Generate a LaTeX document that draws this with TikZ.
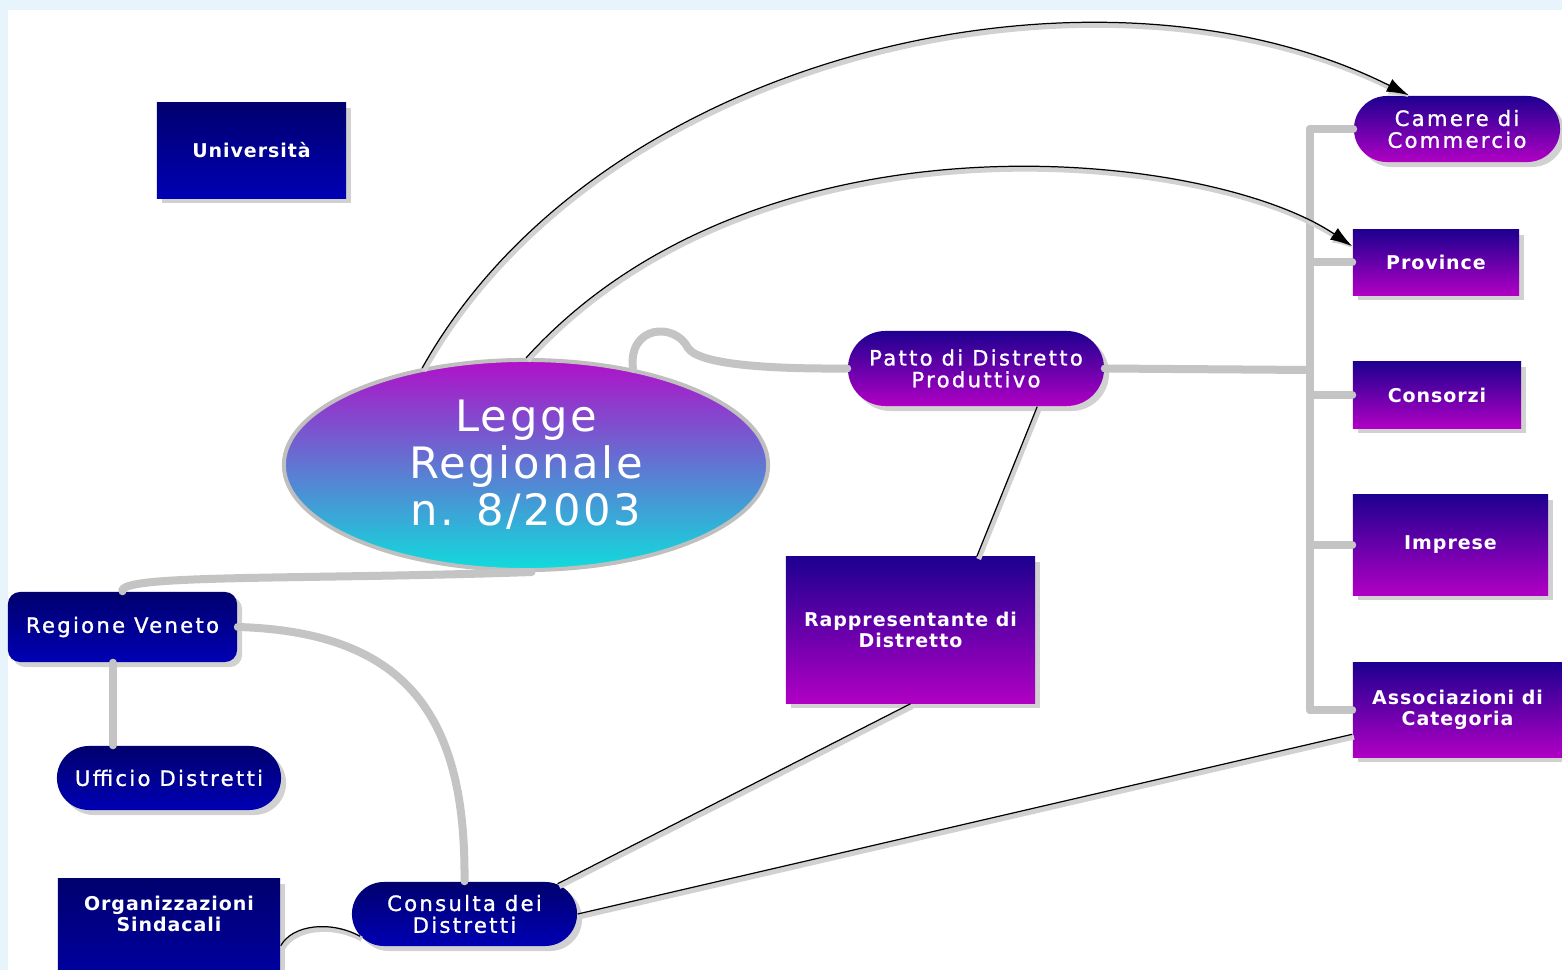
\documentclass[tikz,border=0pt]{standalone}
\usepackage{fontspec}
\setmainfont{DejaVu Sans}
\newfontfamily\pillfont{DejaVu Sans}[LetterSpace=11, FakeBold=1.2]
\newfontfamily\boxfont{DejaVu Sans Bold}[LetterSpace=5]
\newfontfamily\lawfont{DejaVu Sans}[LetterSpace=6]
\usetikzlibrary{shapes.geometric,shapes.misc,shadows,arrows.meta}

\definecolor{pagebg}{HTML}{E8F4FC}
\definecolor{navytop}{HTML}{00006E}
\definecolor{navybot}{HTML}{0000B4}
\definecolor{indigotop}{HTML}{1E0090}
\definecolor{magbot}{HTML}{B000C4}
\definecolor{lawtop}{HTML}{B010C8}
\definecolor{lawmid}{HTML}{5A78CC}
\definecolor{lawbot}{HTML}{10DCDC}
\definecolor{bondgray}{HTML}{C4C4C4}

\tikzset{
  ent/.style={text=white, align=center, inner sep=0pt,
    drop shadow={shadow xshift=0.05cm,shadow yshift=-0.05cm,fill=black!18,opacity=1}},
  navy/.style={ent, top color=navytop, bottom color=navybot},
  violet/.style={ent, top color=indigotop, bottom color=magbot},
  boxed/.style={rectangle, font=\boxfont\fontsize{5.4}{6}\selectfont},
  pill/.style={rounded rectangle, font=\pillfont\fontsize{6}{6.2}\selectfont},
  bond/.style={draw=bondgray, line width=0.08cm, line cap=round},
  link/.style={draw=black, line width=0.35pt,
    preaction={draw=black!18, line width=1.4pt, transform canvas={shift={(0.5pt,-0.8pt)}}}},
}

\begin{document}
\begin{tikzpicture}[x=0.01cm, y=-0.01cm]
% page
\fill[pagebg] (0,0) rectangle (1562,970);
\fill[white] (8,10) rectangle (1562,970);
\useasboundingbox (0,0) rectangle (1562,970);

% central law
\node[ellipse, inner sep=0pt, minimum width=4.84cm, minimum height=2.10cm,
  top color=lawtop, middle color=lawmid, bottom color=lawbot,
  draw=black!25, line width=0.04cm, text=white, align=center,
  font=\lawfont\fontsize{12.3}{13.4}\selectfont] (legge) at (526,465)
  {Legge\\Regionale\\n. 8/2003};

% left side
\node[navy, boxed, minimum width=1.89cm, minimum height=0.95cm] (univ) at (251.5,150.5) {Università};
\node[navy, rectangle, rounded corners=0.12cm, font=\pillfont\fontsize{6}{6.2}\selectfont,
  minimum width=2.29cm, minimum height=0.70cm] (regione) at (122.5,627) {Regione Veneto};
\node[navy, pill, minimum width=2.24cm, minimum height=0.64cm] (ufficio) at (169,778) {Ufficio Distretti};
\node[navy, boxed, minimum width=2.22cm, minimum height=1.34cm, anchor=north] (orgbox) at (169,878) {};
\node[text=white, align=center, font=\boxfont\fontsize{5.4}{6}\selectfont] (org) at (169,914)
  {Organizzazioni\\Sindacali};
\node[navy, pill, minimum width=2.25cm, minimum height=0.64cm] (consulta) at (464.5,914) {Consulta dei\\Distretti};

% middle
\node[violet, pill, minimum width=2.56cm, minimum height=0.75cm] (patto) at (976,368.5) {Patto di Distretto\\Produttivo};
\node[violet, boxed, minimum width=2.49cm, minimum height=1.46cm] (rappr) at (910.5,630) {Rappresentante di\\Distretto};

% right column
\node[violet, pill, minimum width=2.06cm, minimum height=0.66cm] (camere) at (1457,129) {Camere di\\Commercio};
\node[violet, boxed, minimum width=1.66cm, minimum height=0.65cm] (province) at (1436,262.5) {Province};
\node[violet, boxed, minimum width=1.68cm, minimum height=0.66cm] (consorzi) at (1437,395) {Consorzi};
\node[violet, boxed, minimum width=1.95cm, minimum height=1.00cm] (imprese) at (1450.5,545) {Imprese};
\node[violet, boxed, minimum width=2.09cm, minimum height=0.94cm] (assoc) at (1457.5,710) {Associazioni di\\Categoria};

% grey bonds
\draw[bond] (legge.42) .. controls (628,325) and (675,322) .. (688,348)
  .. controls (700,366) and (780,369) .. (patto.west);
\draw[bond] (legge.-87) .. controls (300,580) and (118,574) .. (regione.north);
\draw[bond] (regione.255) -- (regione.255 |- ufficio.north);
\draw[bond] (regione.east) .. controls (410,632) and (466,720) .. (consulta.north);
\coordinate (trunk) at (1310,370);
\draw[bond] (patto.east) -- (trunk);
\draw[bond] (trunk |- camere.west) -- (trunk |- assoc.west);
\foreach \n in {camere,province,consorzi,imprese,assoc}
  \draw[bond] (trunk |- \n.west) -- (\n.west);

% thin links
\draw[link, -{Latex[length=0.22cm,width=0.14cm]}] (legge.137) .. controls (600,50) and (1100,-60) .. (camere.145);
\draw[link, -{Latex[length=0.22cm,width=0.14cm]}] (legge.90) .. controls (760,100) and (1210,150) .. (province.169);
\draw[link] (patto.-32) -- (rappr.48);
\draw[link] (rappr.south) -- (consulta.18);
\draw[link] (assoc.193) -- (consulta.east);
\draw[link] (orgbox.east) .. controls (292,925) and (330,920) .. (consulta.192);
\end{tikzpicture}
\end{document}
